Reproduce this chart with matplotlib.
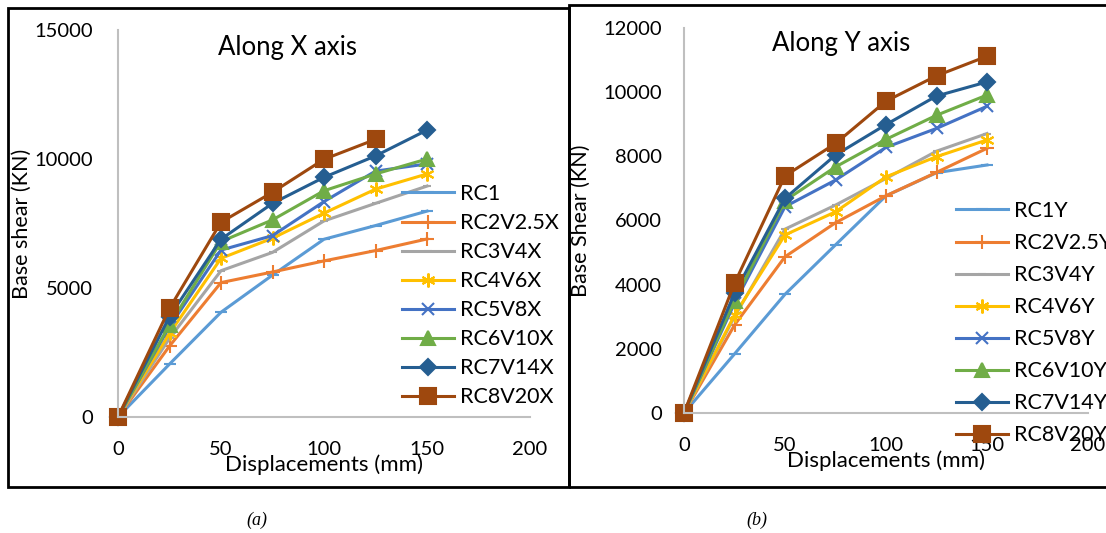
import numpy as np
import matplotlib
matplotlib.use('Agg')
import matplotlib.pyplot as plt
from matplotlib.patches import Rectangle

plt.rcParams['font.family'] = ['Lato', 'DejaVu Sans']

disp = [0, 25, 50, 75, 100, 125, 150]

# along X
rc1 = [0, 2050, 4060, 5500, 6890, 7420, 7980]
rc2 = [0, 2750, 5210, 5620, 6050, 6450, 6900]
rc3 = [0, 3050, 5670, 6380, 7600, 8280, 8950]
rc4 = [0, 3240, 6150, 6930, 7900, 8830, 9420]
rc5 = [0, 3500, 6470, 7030, 8350, 9530, 9810]
rc6 = [0, 3570, 6800, 7640, 8770, 9420, 10000]
rc7 = [0, 3890, 6890, 8280, 9290, 10120, 11120]
rc8 = [0, 4210, 7550, 8710, 9990, 10760]
names_x = ['RC1', 'RC2V2.5X', 'RC3V4X', 'RC4V6X', 'RC5V8X', 'RC6V10X', 'RC7V14X', 'RC8V20X']

# along Y
rc1y = [0, 1840, 3700, 5240, 6770, 7490, 7730]
rc2y = [0, 2740, 4870, 5930, 6770, 7500, 8250]
rc3y = [0, 3000, 5730, 6480, 7310, 8160, 8710]
rc4y = [0, 3050, 5550, 6270, 7360, 7990, 8510]
rc5y = [0, 3420, 6430, 7260, 8280, 8870, 9560]
rc6y = [0, 3500, 6620, 7670, 8530, 9280, 9910]
rc7y = [0, 3730, 6690, 8040, 8990, 9880, 10320]
rc8y = [0, 4040, 7390, 8400, 9720, 10510, 11120]
names_y = ['RC1Y', 'RC2V2.5Y', 'RC3V4Y', 'RC4V6Y', 'RC5V8Y', 'RC6V10Y', 'RC7V14Y', 'RC8V20Y']

colors = ['#5B9BD5', '#ED7D31', '#A5A5A5', '#FFC000', '#4472C4', '#70AD47', '#255E91', '#9E480E']
markers = ['_', '+', '_', (6, 2, 0), 'x', '^', 'D', 's']
msizes = [9, 10, 6, 10, 9, 10, 8, 11]

W, H = 1106, 533
fig = plt.figure(figsize=(W / 100, H / 100), dpi=100)

def px(x0, y0, x1, y1):
    return [x0 / W, 1 - y1 / H, (x1 - x0) / W, (y1 - y0) / H]

def panel(rect, series, names, ymax, ystep, title, ylabel, tpos, leg_anchor, spacing, ypad):
    ax = fig.add_axes(rect)
    for i, s in enumerate(series):
        ax.plot(disp[:len(s)], s, color=colors[i], marker=markers[i], ms=msizes[i],
                mew=1.5, lw=2.2, label=names[i], clip_on=False)
    ax.set_xlim(0, 200)
    ax.set_ylim(0, ymax)
    ax.set_xticks([0, 50, 100, 150, 200])
    ax.set_yticks(np.arange(0, ymax + 1, ystep))
    for sp in ['top', 'right']:
        ax.spines[sp].set_visible(False)
    for sp in ['left', 'bottom']:
        ax.spines[sp].set_color('#BFBFBF')
        ax.spines[sp].set_linewidth(1.5)
    ax.tick_params(length=0, labelsize=14.5)
    ax.tick_params(axis='x', pad=17)
    ax.tick_params(axis='y', pad=ypad)
    ax.set_xlabel('Displacements (mm)', fontsize=16, labelpad=-2)
    ax.set_ylabel(ylabel, fontsize=15.5)
    ax.text(tpos[0] / W, 1 - tpos[1] / H, title, transform=fig.transFigure,
            fontsize=18.5, ha='center', va='center')
    fig.legend(*ax.get_legend_handles_labels(), loc='upper left',
               bbox_to_anchor=(leg_anchor[0] / W, 1 - leg_anchor[1] / H),
               frameon=False, fontsize=15.5, handlelength=2.4, handletextpad=0.3,
               labelspacing=spacing, borderpad=0, borderaxespad=0)
    return ax

ax1 = panel(px(118, 30, 530, 417), [rc1, rc2, rc3, rc4, rc5, rc6, rc7, rc8], names_x,
            15000, 5000, 'Along X axis', 'Base shear (KN)', (288, 47), (402, 184), 0.42, 18)
ax1.yaxis.set_label_coords(-0.21, 0.5)

ax2 = panel(px(684, 28, 1088, 413), [rc1y, rc2y, rc3y, rc4y, rc5y, rc6y, rc7y, rc8y], names_y,
            12000, 2000, 'Along Y axis', 'Base Shear (KN)', (841, 43), (956, 201), 0.56, 16)
ax2.yaxis.set_label_coords(-0.23, 0.5)

fig.add_artist(Rectangle((8 / W, 1 - 487 / H), 561 / W, 479 / H, transform=fig.transFigure,
                         fill=False, ec='black', lw=2))
fig.add_artist(Rectangle((569 / W, 1 - 487 / H), 560 / W, 482 / H, transform=fig.transFigure,
                         fill=False, ec='black', lw=2))

fig.text(257 / W, 1 - 520 / H, '(a)', fontsize=13, style='italic', family='Liberation Serif',
         ha='center', va='center')
fig.text(757 / W, 1 - 520 / H, '(b)', fontsize=13, style='italic', family='Liberation Serif',
         ha='center', va='center')

fig.savefig('out.png', dpi=100)
